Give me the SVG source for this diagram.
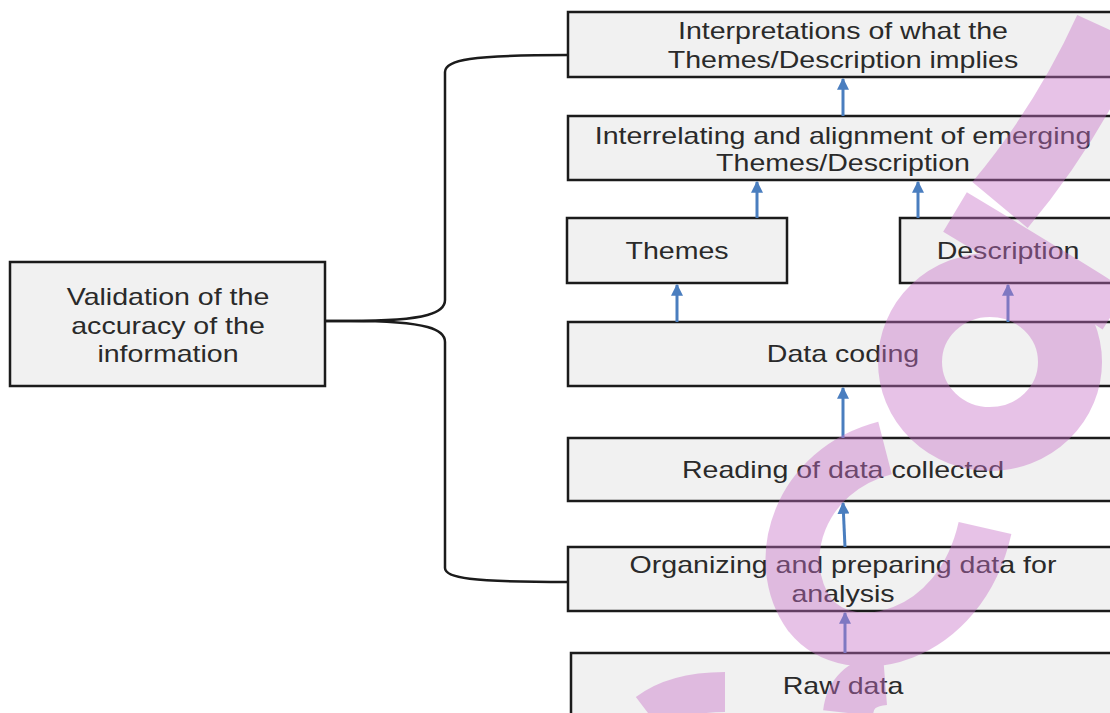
<svg xmlns="http://www.w3.org/2000/svg" width="1110" height="713" viewBox="0 0 1110 713">
  <defs>
    <style>
      .box { fill: #f1f1f1; stroke: #1b1b1b; stroke-width: 2.5; }
      .lbl { font-family: "Liberation Sans", Arial, sans-serif; font-size: 24px; fill: #2a2a2a; text-anchor: middle; }
      .arrow { stroke: #4a7ebf; stroke-width: 3; fill: none; marker-end: url(#head); }
      .brace { stroke: #1b1b1b; stroke-width: 2.5; fill: none; }
      .mark { stroke: #c870c8; fill: none; stroke-linecap: butt; }
    </style>
    <marker id="head" viewBox="0 0 10 10" refX="9" refY="5" markerWidth="4" markerHeight="4" orient="auto" markerUnits="strokeWidth">
      <path d="M0,0 L10,5 L0,10 z" fill="#4a7ebf"/>
    </marker>
  </defs>

  <rect width="1110" height="713" fill="#ffffff"/>

  <!-- brace joining validation to the process column -->
  <g id="connectors-brace">
    <path class="brace" d="M325,321 L350,321 C430,321 445,312 445,300 L445,72 C445,60 470,55 568,55"/>
    <path class="brace" d="M325,321 L350,321 C430,321 445,330 445,342 L445,568 C445,578 470,582 568,582"/>
  </g>

  <g id="n-validation">
    <rect class="box" x="10" y="262" width="315" height="124"/>
    <text class="lbl" transform="translate(168,305) scale(1.19,1)">Validation of the</text>
    <text class="lbl" transform="translate(168,334) scale(1.19,1)">accuracy of the</text>
    <text class="lbl" transform="translate(168,362) scale(1.19,1)">information</text>
  </g>

  <g id="n-interpretations">
    <rect class="box" x="568" y="12" width="560" height="65"/>
    <text class="lbl" transform="translate(843,38.5) scale(1.19,1)">Interpretations of what the</text>
    <text class="lbl" transform="translate(843,68) scale(1.19,1)">Themes/Description implies</text>
  </g>

  <g id="n-interrelating">
    <rect class="box" x="568" y="116" width="560" height="64"/>
    <text class="lbl" transform="translate(843,143.5) scale(1.19,1)">Interrelating and alignment of emerging</text>
    <text class="lbl" transform="translate(843,170.5) scale(1.19,1)">Themes/Description</text>
  </g>

  <g id="n-themes">
    <rect class="box" x="567" y="218" width="220" height="65"/>
    <text class="lbl" transform="translate(677,258.5) scale(1.19,1)">Themes</text>
  </g>

  <g id="n-description">
    <rect class="box" x="900" y="218" width="228" height="65"/>
    <text class="lbl" transform="translate(1008,258.5) scale(1.19,1)">Description</text>
  </g>

  <g id="n-coding">
    <rect class="box" x="568" y="322" width="560" height="64"/>
    <text class="lbl" transform="translate(843,362) scale(1.19,1)">Data coding</text>
  </g>

  <g id="n-reading">
    <rect class="box" x="568" y="438" width="560" height="63"/>
    <text class="lbl" transform="translate(843,478) scale(1.19,1)">Reading of data collected</text>
  </g>

  <g id="n-organizing">
    <rect class="box" x="568" y="547" width="560" height="64"/>
    <text class="lbl" transform="translate(843,573) scale(1.19,1)">Organizing and preparing data for</text>
    <text class="lbl" transform="translate(843,602) scale(1.19,1)">analysis</text>
  </g>

  <g id="n-raw">
    <rect class="box" x="571" y="653" width="560" height="80"/>
    <text class="lbl" transform="translate(843,694) scale(1.19,1)">Raw data</text>
  </g>

  <g id="connectors">
    <line class="arrow" x1="843" y1="116" x2="843" y2="79"/>
    <line class="arrow" x1="757" y1="218" x2="757" y2="182"/>
    <line class="arrow" x1="918" y1="218" x2="918" y2="182"/>
    <line class="arrow" x1="677" y1="322" x2="677" y2="285"/>
    <line class="arrow" x1="1008" y1="322" x2="1008" y2="285"/>
    <line class="arrow" x1="843" y1="438" x2="843" y2="388"/>
    <line class="arrow" x1="845" y1="547" x2="843" y2="503"/>
    <line class="arrow" x1="845" y1="653" x2="845" y2="613"/>
  </g>

  <!-- translucent pink watermark strokes -->
  <g id="watermark" opacity="0.42">
    <path class="mark" stroke-width="54" d="M885,448 C800,470 770,560 810,615 C850,665 960,640 985,528"/>
    <ellipse class="mark" stroke-width="64" cx="990" cy="362" rx="80" ry="77"/>
    <path class="mark" stroke-width="46" d="M955,212 C1010,245 1060,275 1115,310"/>
    <path class="mark" stroke-width="72" d="M1110,30 C1085,85 1050,145 1000,205"/>
    <path class="mark" stroke-width="40" d="M648,713 C665,700 692,692 725,692"/>
    <path class="mark" stroke-width="50" d="M848,713 C850,695 860,682 885,680"/>
  </g>
</svg>
